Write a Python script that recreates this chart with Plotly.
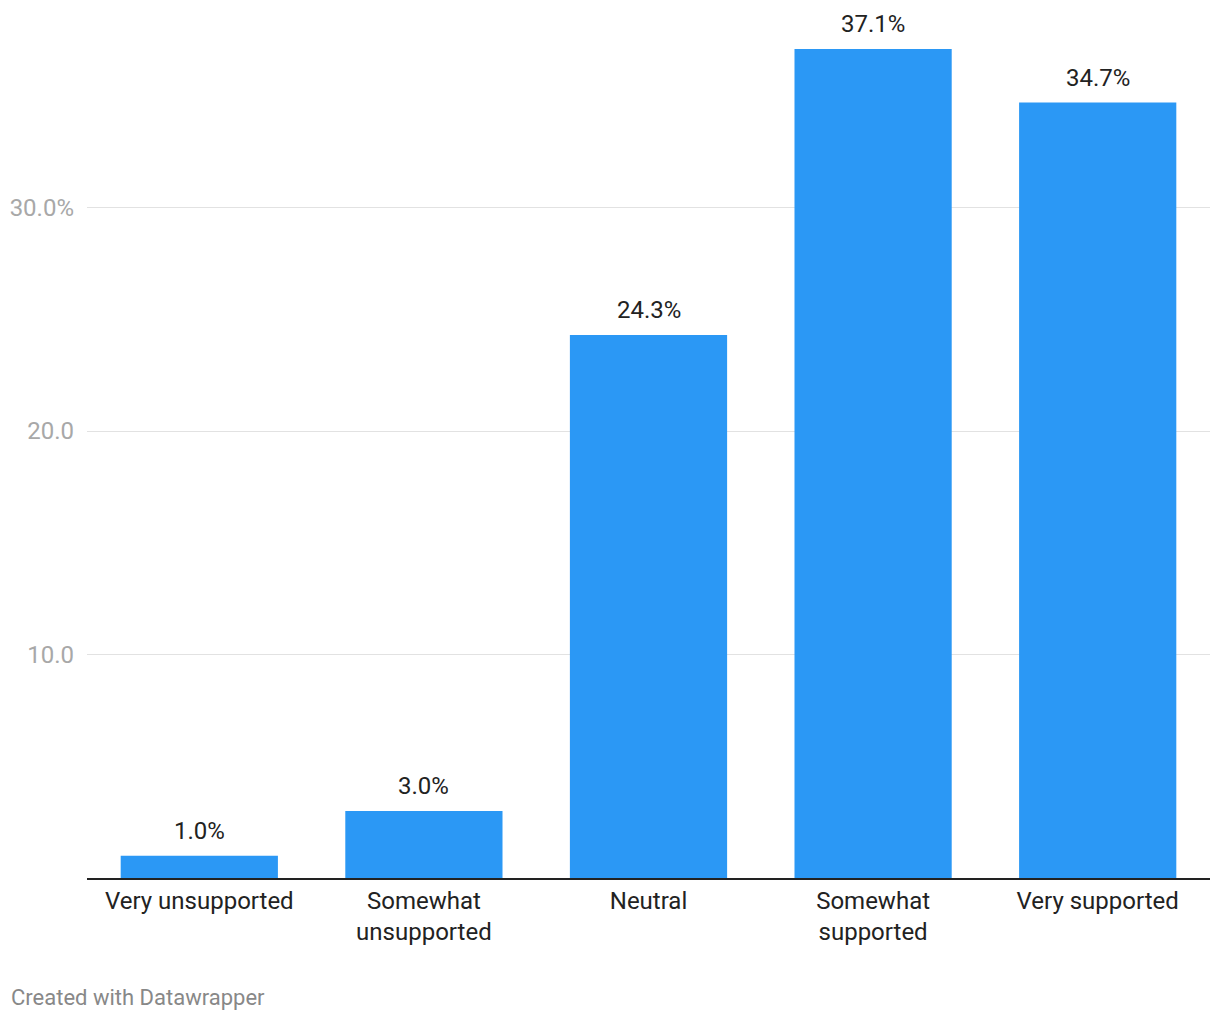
import plotly.graph_objects as go

categories = ["Very unsupported", "Somewhat<br>unsupported", "Neutral", "Somewhat<br>supported", "Very supported"]
values = [1.0, 3.0, 24.3, 37.1, 34.7]
tick_vals = [10, 20, 30]
tick_text = ["10.0", "20.0", "30.0%"]

FONT = "Roboto"
BAR = "#2b98f5"

fig = go.Figure()
fig.add_trace(go.Bar(
    x=categories, y=values, marker=dict(color=BAR, line=dict(width=0)),
    hoverinfo="skip",
))

for c, v in zip(categories, values):
    fig.add_annotation(x=c, y=v, text=f"{v:.1f}%", showarrow=False,
                       yanchor="bottom", yshift=9,
                       font=dict(family=FONT, size=24, color="#222222"))

fig.add_annotation(x=0, y=0, xref="paper", yref="paper", xanchor="left", yanchor="middle",
                   xshift=-78, yshift=-119, text="Created with Datawrapper", showarrow=False,
                   font=dict(family=FONT, size=22, color="#888888"))

fig.update_layout(
    width=1212, height=1012,
    margin=dict(l=79, r=10, t=40, b=142),
    paper_bgcolor="white", plot_bgcolor="white",
    bargap=0.3, showlegend=False,
    font=dict(family=FONT, size=24, color="#222222"),
)
fig.update_xaxes(showline=True, linecolor="#222222", linewidth=2, ticks="",
                 tickfont=dict(family=FONT, size=24, color="#222222"),
                 automargin=False, fixedrange=True)
fig.update_yaxes(range=[0, 37.14], tickvals=tick_vals, ticktext=tick_text,
                 showgrid=True, gridcolor="#e2e2e2", gridwidth=1, zeroline=False,
                 ticks="", ticklabelstandoff=12,
                 tickfont=dict(family=FONT, size=24, color="#a8a8a8"),
                 automargin=False, fixedrange=True)

fig.write_html("out.html")
